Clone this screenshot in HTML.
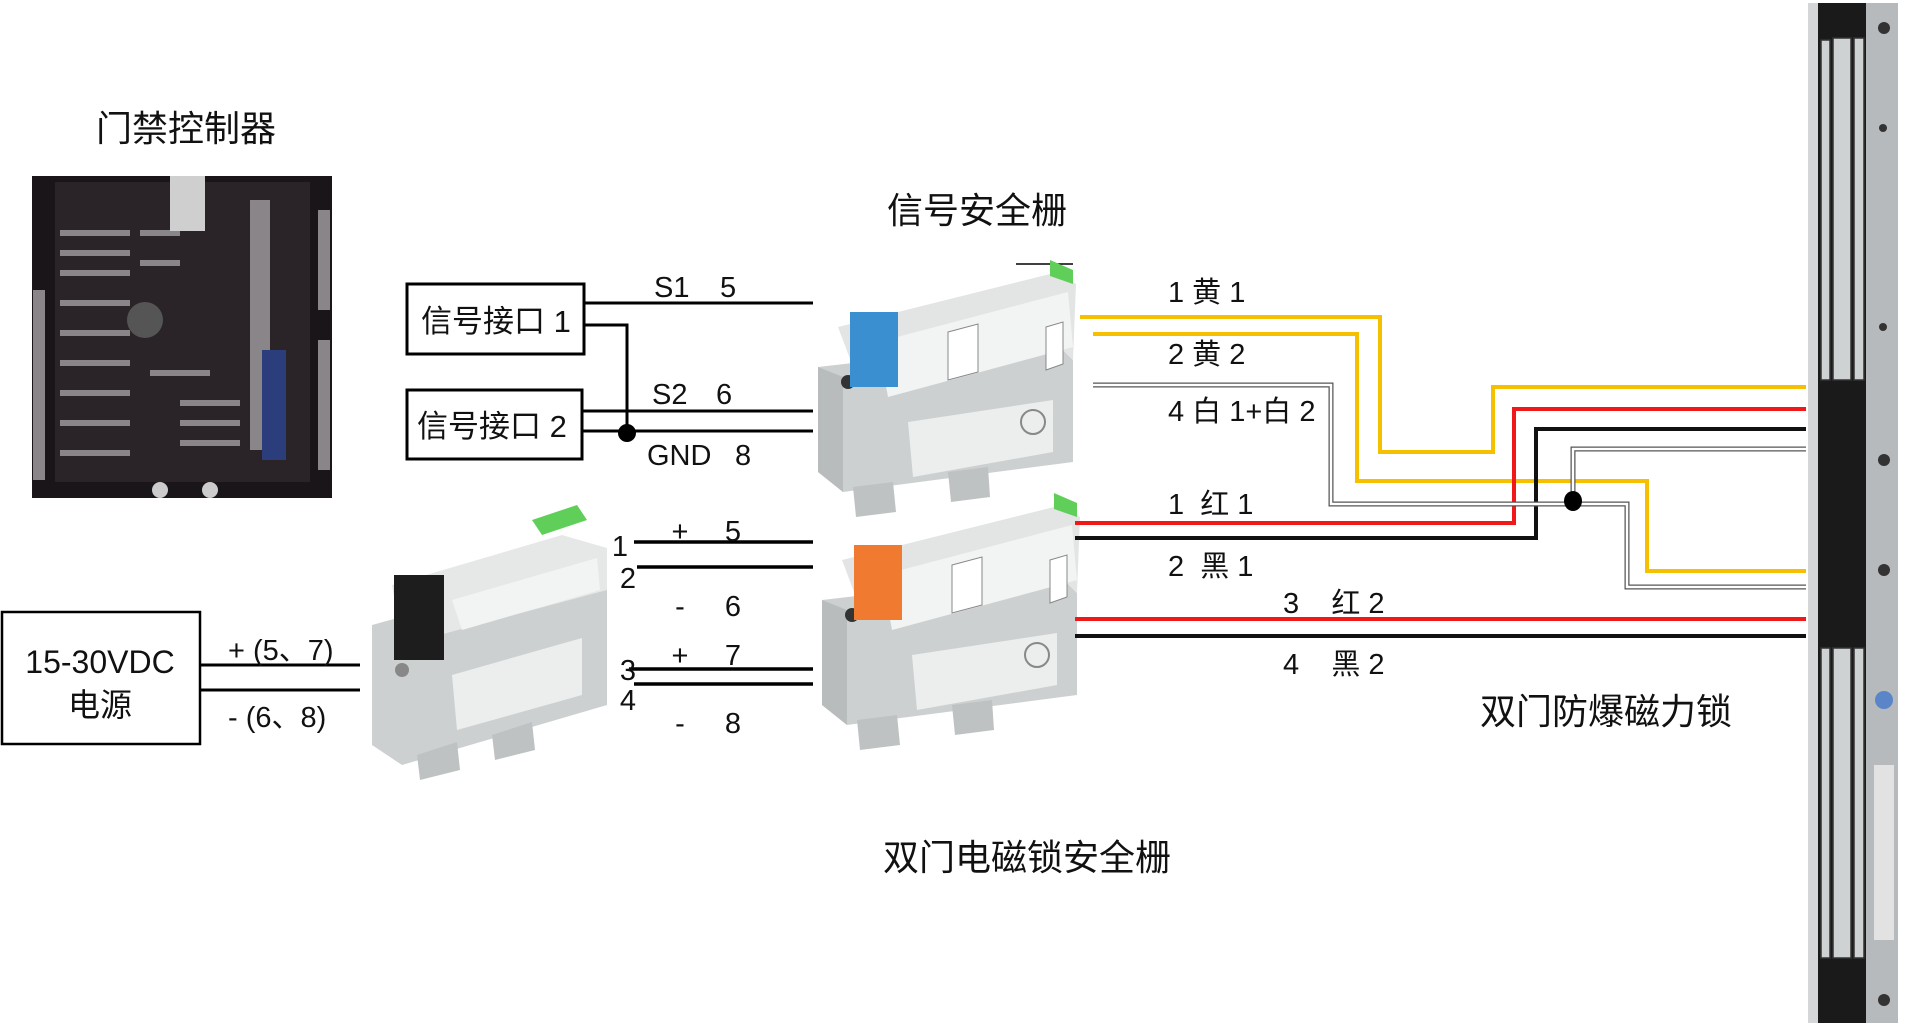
<!DOCTYPE html>
<html><head><meta charset="utf-8"><style>
html,body{margin:0;padding:0;background:#fff;}
svg{display:block}
text{font-family:"Liberation Sans","Noto Sans CJK SC",sans-serif;fill:#111}
</style></head><body>
<svg width="1920" height="1034" viewBox="0 0 1920 1034" xmlns="http://www.w3.org/2000/svg">
<defs>
<g id="dev">
  <polygon points="0,95 235,68 255,88 255,190 25,220 0,200" fill="#cdd0d1"/>
  <polygon points="20,55 240,0 258,12 255,88 235,68 35,95" fill="#e3e5e5"/>
  <polygon points="60,70 250,20 255,75 70,125" fill="#f2f3f3"/>
  <polygon points="90,150 235,128 235,180 95,205" fill="#eceeee"/>
  <polygon points="0,95 25,105 25,220 0,200" fill="#b9bcbd"/>
  <circle cx="30" cy="110" r="7" fill="#333"/>
  <polygon points="35,215 75,210 78,240 38,245" fill="#bfc2c3"/>
  <polygon points="130,200 170,195 172,225 133,230" fill="#bfc2c3"/>
  <polygon points="232,-12 255,-2 255,12 232,4" fill="#5fcf5a"/>
  <polygon points="130,60 160,52 160,100 130,108" fill="#fff" stroke="#888" stroke-width="1"/>
  <polygon points="228,55 245,50 245,92 228,98" fill="#fff" stroke="#888" stroke-width="1"/>
  <circle cx="215" cy="150" r="12" fill="none" stroke="#888" stroke-width="2"/>
</g>
</defs>

<text x="96" y="141" font-size="36">门禁控制器</text>
<text x="887" y="223" font-size="36">信号安全栅</text>
<text x="883" y="870" font-size="36">双门电磁锁安全栅</text>
<text x="1480" y="724" font-size="36">双门防爆磁力锁</text>
<line x1="1016" y1="264" x2="1073" y2="264" stroke="#000" stroke-width="1.5"/>

<!-- PCB -->
<rect x="32" y="176" width="300" height="322" fill="#1a1518"/>
<rect x="55" y="182" width="255" height="300" fill="#2a2428"/>
<g fill="#8a8588">
<rect x="60" y="230" width="70" height="6"/><rect x="60" y="250" width="70" height="6"/><rect x="60" y="270" width="70" height="6"/><rect x="60" y="300" width="70" height="6"/><rect x="60" y="330" width="70" height="6"/><rect x="60" y="360" width="70" height="6"/><rect x="60" y="390" width="70" height="6"/><rect x="60" y="420" width="70" height="6"/><rect x="60" y="450" width="70" height="6"/>
<rect x="250" y="200" width="20" height="250"/><rect x="33" y="290" width="12" height="190"/><rect x="318" y="210" width="12" height="100"/><rect x="318" y="340" width="12" height="130"/>
<rect x="180" y="400" width="60" height="6"/><rect x="180" y="420" width="60" height="6"/><rect x="180" y="440" width="60" height="6"/>
<rect x="140" y="230" width="40" height="6"/><rect x="140" y="260" width="40" height="6"/><rect x="150" y="370" width="60" height="6"/>
</g>
<rect x="170" y="176" width="35" height="55" fill="#cfcfcf"/>
<circle cx="145" cy="320" r="18" fill="#555"/>
<rect x="262" y="350" width="24" height="110" fill="#2b3d7a"/>
<circle cx="160" cy="490" r="8" fill="#ccc"/><circle cx="210" cy="490" r="8" fill="#ccc"/>

<g fill="none" stroke="#000" stroke-width="3">
<rect x="407" y="284" width="177" height="70"/>
<rect x="407" y="390" width="175" height="69"/>
</g>
<text x="421" y="332" font-size="31">信号接口 1</text>
<text x="417" y="437" font-size="31">信号接口 2</text>
<g stroke="#000" stroke-width="3" fill="none">
<line x1="585" y1="303" x2="813" y2="303"/>
<polyline points="585,325 627,325 627,435"/>
<line x1="583" y1="411" x2="813" y2="411"/>
<line x1="583" y1="431" x2="813" y2="431"/>
</g>
<circle cx="627" cy="433" r="9" fill="#000"/>
<text x="654" y="297" font-size="29">S1</text><text x="720" y="297" font-size="29">5</text>
<text x="652" y="404" font-size="29">S2</text><text x="716" y="404" font-size="29">6</text>
<text x="647" y="465" font-size="29">GND</text><text x="735" y="465" font-size="29">8</text>

<rect x="2" y="612" width="198" height="132" fill="none" stroke="#000" stroke-width="2.5"/>
<text x="100" y="673" font-size="32" text-anchor="middle">15-30VDC</text>
<text x="100" y="716" font-size="32" text-anchor="middle">电源</text>
<line x1="200" y1="665" x2="360" y2="665" stroke="#000" stroke-width="3"/>
<line x1="200" y1="690" x2="360" y2="690" stroke="#000" stroke-width="3"/>
<text x="228" y="660" font-size="29">+ (5、7)</text>
<text x="228" y="727" font-size="29">- (6、8)</text>

<!-- power converter -->
<g transform="translate(372,530)">
 <polygon points="0,95 200,40 235,55 235,175 30,235 0,215" fill="#cdd0d1"/>
 <polygon points="20,55 190,5 235,18 235,60 30,115" fill="#e6e8e8"/>
 <polygon points="80,70 225,28 228,60 90,100" fill="#f2f3f3"/>
 <rect x="22" y="45" width="50" height="85" fill="#1d1d1d"/>
 <polygon points="160,-10 205,-25 215,-10 170,5" fill="#5fcf5a"/>
 <polygon points="80,145 210,108 210,165 85,200" fill="#eceeee"/>
 <circle cx="30" cy="140" r="7" fill="#888"/>
 <polygon points="45,225 85,212 88,240 48,250" fill="#bfc2c3"/>
 <polygon points="120,205 160,192 163,220 123,230" fill="#bfc2c3"/>
</g>

<g stroke="#000" stroke-width="3.5">
<line x1="634" y1="542" x2="813" y2="542"/>
<line x1="637" y1="567" x2="813" y2="567"/>
<line x1="629" y1="669" x2="813" y2="669"/>
<line x1="634" y1="684" x2="813" y2="684"/>
</g>
<g font-size="29">
<text x="620" y="556" text-anchor="middle">1</text>
<text x="628" y="588" text-anchor="middle">2</text>
<text x="628" y="680" text-anchor="middle">3</text>
<text x="628" y="710" text-anchor="middle">4</text>
<text x="680" y="541" text-anchor="middle">+</text><text x="733" y="541" text-anchor="middle">5</text>
<text x="680" y="616" text-anchor="middle">-</text><text x="733" y="616" text-anchor="middle">6</text>
<text x="680" y="665" text-anchor="middle">+</text><text x="733" y="665" text-anchor="middle">7</text>
<text x="680" y="733" text-anchor="middle">-</text><text x="733" y="733" text-anchor="middle">8</text>
</g>

<g transform="translate(818,272)"><use href="#dev"/><rect x="32" y="40" width="48" height="75" fill="#3a8fd0"/></g>
<g transform="translate(822,505)"><use href="#dev"/><rect x="32" y="40" width="48" height="75" fill="#f07a30"/></g>

<g fill="none" stroke-width="4">
<polyline points="1080,317 1380,317 1380,452 1493,452 1493,387 1806,387" stroke="#f5c000"/>
<polyline points="1093,334 1357,334 1357,481 1647,481 1647,571 1806,571" stroke="#f5c000"/>
<polyline points="1075,523 1514,523 1514,409 1806,409" stroke="#f01818"/>
<polyline points="1075,538 1536,538 1536,429 1806,429" stroke="#111"/>
<line x1="1075" y1="619" x2="1806" y2="619" stroke="#f01818"/>
<line x1="1075" y1="636" x2="1806" y2="636" stroke="#111"/>
</g>
<g fill="none">
<polyline points="1093,385 1331,385 1331,504 1627,504 1627,587 1806,587" stroke="#555" stroke-width="5"/>
<polyline points="1093,385 1331,385 1331,504 1627,504 1627,587 1806,587" stroke="#fff" stroke-width="2.5"/>
<polyline points="1573,501 1573,449 1806,449" stroke="#555" stroke-width="5"/>
<polyline points="1573,501 1573,449 1806,449" stroke="#fff" stroke-width="2.5"/>
</g>
<ellipse cx="1573" cy="501" rx="9" ry="10" fill="#000"/>
<g font-size="29">
<text x="1168" y="302">1 黄 1</text>
<text x="1168" y="364">2 黄 2</text>
<text x="1168" y="421">4 白 1+白 2</text>
<text x="1168" y="514">1&#160;&#160;红 1</text>
<text x="1168" y="576">2&#160;&#160;黑 1</text>
<text x="1283" y="613">3&#160;&#160;&#160;&#160;红 2</text>
<text x="1283" y="674">4&#160;&#160;&#160;&#160;黑 2</text>
</g>

<!-- magnetic lock -->
<rect x="1808" y="3" width="12" height="1020" fill="#d4d6d7"/>
<rect x="1818" y="3" width="50" height="1020" fill="#1a1a1a"/>
<rect x="1866" y="3" width="32" height="1020" fill="#b7babc"/>
<g fill="#cfd2d3" stroke="#333" stroke-width="1.5">
<rect x="1821" y="40" width="9" height="340"/><rect x="1833" y="38" width="18" height="342"/><rect x="1854" y="38" width="10" height="342"/>
<rect x="1821" y="648" width="9" height="310"/><rect x="1833" y="648" width="18" height="310"/><rect x="1854" y="648" width="10" height="310"/>
</g>
<g fill="#333"><circle cx="1884" cy="28" r="6"/><circle cx="1883" cy="128" r="4"/><circle cx="1883" cy="327" r="4"/><circle cx="1884" cy="460" r="6"/><circle cx="1884" cy="570" r="6"/><circle cx="1884" cy="1000" r="6"/></g>
<circle cx="1884" cy="700" r="9" fill="#5a85c8"/>
<rect x="1874" y="765" width="20" height="175" fill="#e2e2e2"/>
</svg>
</body></html>
